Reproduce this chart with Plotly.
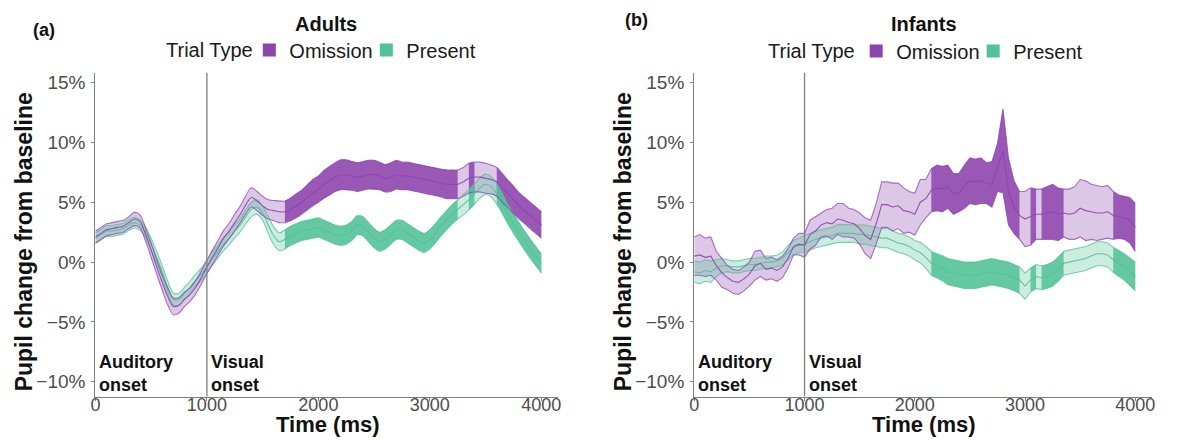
import numpy as np
import plotly.graph_objects as go

W, H = 1178, 441

# ---------------- DATA ----------------
time_ms = list(range(0, 4001, 50))
x_ticks = [0, 1000, 2000, 3000, 4000]
x_ticktext = ["0", "1000", "2000", "3000", "4000"]
y_ticks = [-10, -5, 0, 5, 10, 15]
y_ticktext = ["\u221210%", "\u22125%", "0%", "5%", "10%", "15%"]

# Adults
adult_omission_mean = [
    2.1, 2.4, 2.7, 2.8, 2.9, 3.0, 3.3, 3.6, 3.4, 2.3,
    1.0, -0.4, -1.7, -2.9, -3.7, -3.6, -3.1, -2.7, -2.1, -1.3,
    -0.4, 0.4, 1.2, 2.0, 2.6, 3.3, 4.0, 4.8, 5.4, 5.1,
    4.7, 4.4, 4.3, 4.2, 4.2, 4.4, 4.7, 5.0, 5.4, 5.8,
    6.1, 6.5, 6.8, 7.1, 7.3, 7.3, 7.2, 7.1, 7.2, 7.3,
    7.3, 7.2, 7.0, 7.1, 7.3, 7.2, 7.2, 7.1, 7.0, 6.9,
    6.8, 6.7, 6.6, 6.5, 6.5, 6.5, 6.7, 7.0, 7.1, 7.1,
    7.0, 6.9, 6.7, 6.2, 5.7, 5.2, 4.7, 4.3, 3.9, 3.5,
    3.1]
adult_omission_ci = [
    0.5, 0.5, 0.5, 0.5, 0.5, 0.5, 0.5, 0.55, 0.55, 0.55,
    0.6, 0.6, 0.65, 0.7, 0.7, 0.65, 0.6, 0.55, 0.55, 0.55,
    0.55, 0.6, 0.6, 0.65, 0.65, 0.7, 0.7, 0.75, 0.8, 0.8,
    0.8, 0.8, 0.85, 0.9, 0.9, 0.95, 1.0, 1.0, 1.05, 1.1,
    1.1, 1.15, 1.2, 1.2, 1.25, 1.25, 1.2, 1.2, 1.2, 1.2,
    1.2, 1.15, 1.15, 1.2, 1.2, 1.15, 1.15, 1.15, 1.15, 1.15,
    1.15, 1.15, 1.15, 1.2, 1.2, 1.2, 1.2, 1.25, 1.25, 1.25,
    1.25, 1.2, 1.2, 1.2, 1.15, 1.15, 1.1, 1.1, 1.1, 1.1,
    1.1]
adult_present_mean = [
    2.0, 2.3, 2.6, 2.6, 2.7, 2.8, 3.1, 3.3, 3.1, 2.5,
    1.5, 0.4, -0.8, -2.1, -3.1, -3.1, -2.6, -2.1, -1.5, -1.0,
    -0.4, 0.3, 0.9, 1.5, 2.0, 2.6, 3.1, 3.8, 4.4, 4.6,
    4.1, 3.1, 2.2, 1.7, 1.9, 2.2, 2.4, 2.6, 2.7, 2.8,
    2.9, 2.7, 2.5, 2.3, 2.2, 2.3, 2.6, 3.1, 3.0, 2.5,
    2.0, 1.7, 1.9, 2.3, 2.7, 2.7, 2.4, 2.1, 1.8, 1.6,
    1.9, 2.4, 3.0, 3.5, 4.0, 4.4, 4.8, 5.2, 5.7, 6.2,
    6.5, 6.3, 5.7, 4.9, 4.0, 3.2, 2.5, 1.8, 1.1, 0.5,
    -0.1]
adult_present_ci = [
    0.45, 0.45, 0.45, 0.45, 0.45, 0.45, 0.45, 0.45, 0.45, 0.45,
    0.5, 0.5, 0.5, 0.5, 0.5, 0.5, 0.5, 0.5, 0.5, 0.5,
    0.55, 0.55, 0.55, 0.55, 0.55, 0.55, 0.55, 0.6, 0.6, 0.6,
    0.6, 0.7, 0.75, 0.75, 0.8, 0.8, 0.8, 0.8, 0.8, 0.8,
    0.8, 0.8, 0.8, 0.8, 0.8, 0.8, 0.8, 0.8, 0.8, 0.8,
    0.8, 0.8, 0.8, 0.8, 0.8, 0.8, 0.8, 0.8, 0.8, 0.8,
    0.8, 0.8, 0.8, 0.8, 0.8, 0.8, 0.85, 0.85, 0.85, 0.85,
    0.85, 0.85, 0.85, 0.85, 0.8, 0.8, 0.8, 0.8, 0.8, 0.8,
    0.8]
adult_sig_windows = [(1700, 3250), (3350, 3400), (3600, 4000)]

# Infants
infant_omission_mean = [
    0.5, 0.6, 0.4, 0.5, -0.3, -0.9, -1.3, -1.6, -1.7, -1.4,
    -1.0, -0.3, -0.1, -0.6, -0.5, -0.7, -0.4, 0.3, 1.3, 1.5,
    1.4, 2.3, 2.6, 3.1, 3.3, 3.2, 3.6, 3.5, 3.3, 3.2,
    2.8, 2.2, 1.9, 3.2, 4.8, 4.8, 4.6, 4.7, 4.3, 4.2,
    4.0, 5.0, 5.3, 6.0, 6.2, 6.1, 6.3, 5.7, 5.8, 6.3,
    6.8, 6.7, 6.8, 6.6, 6.5, 7.9, 9.3, 5.9, 4.6, 3.9,
    3.6, 3.8, 4.0, 4.0, 4.1, 4.2, 4.0, 4.1, 4.0, 4.1,
    4.5, 4.3, 4.2, 4.1, 4.1, 4.2, 3.9, 3.8, 3.7, 3.5,
    2.9]
infant_omission_ci = [
    1.6, 1.7, 1.6, 1.6, 1.2, 1.2, 1.0, 1.0, 1.0, 1.0,
    1.0, 1.2, 1.1, 0.9, 0.9, 0.9, 0.9, 0.8, 0.7, 0.9,
    1.0, 1.2, 1.2, 1.0, 1.1, 1.3, 1.3, 1.4, 1.2, 1.2,
    1.3, 1.5, 1.6, 1.7, 1.9, 1.9, 2.0, 1.9, 1.9, 1.7,
    1.75, 1.9, 1.6, 1.8, 1.9, 1.9, 1.8, 1.7, 1.6, 1.8,
    1.9, 1.9, 1.9, 1.7, 1.9, 2.0, 3.5, 2.8, 2.2, 2.0,
    2.3, 2.4, 2.1, 2.1, 2.2, 2.3, 2.2, 2.0, 2.1, 2.2,
    2.4, 2.5, 2.3, 2.3, 2.2, 2.2, 2.0, 1.8, 1.8, 1.9,
    2.0]
infant_present_mean = [
    -0.8, -0.9, -0.7, -0.8, -0.5, -0.3, -0.3, -0.4, -0.4, -0.3,
    -0.2, -0.2, -0.1, 0.0, 0.0, 0.1, 0.3, 0.8, 1.2, 1.4,
    1.5, 1.7, 1.9, 2.0, 2.1, 2.2, 2.4, 2.4, 2.4, 2.4,
    2.3, 2.3, 2.2, 2.1, 2.0, 2.0, 1.8, 1.6, 1.5, 1.3,
    1.0, 0.8, 0.4, -0.1, -0.3, -0.5, -0.8, -0.9, -1.0, -1.1,
    -1.1, -1.1, -1.0, -0.9, -0.8, -0.9, -1.0, -1.1, -1.3, -1.5,
    -2.0, -1.5, -1.2, -1.3, -1.2, -1.0, -0.6, -0.1, 0.0, 0.1,
    0.2, 0.3, 0.5, 0.7, 0.7, 0.6, 0.2, -0.1, -0.4, -0.8,
    -1.2]
infant_present_ci = [
    0.9, 0.9, 0.9, 0.9, 0.7, 0.6, 0.5, 0.5, 0.5, 0.5,
    0.5, 0.5, 0.5, 0.5, 0.5, 0.5, 0.55, 0.6, 0.6, 0.6,
    0.65, 0.7, 0.7, 0.7, 0.7, 0.7, 0.75, 0.75, 0.75, 0.75,
    0.8, 0.8, 0.8, 0.8, 0.8, 0.8, 0.8, 0.8, 0.8, 0.8,
    0.8, 0.85, 0.9, 1.0, 1.0, 1.05, 1.1, 1.1, 1.1, 1.1,
    1.1, 1.1, 1.1, 1.1, 1.1, 1.1, 1.1, 1.1, 1.1, 1.1,
    1.1, 1.0, 1.0, 1.0, 1.0, 1.0, 1.0, 1.0, 1.0, 1.0,
    1.0, 1.0, 1.0, 1.0, 1.0, 1.0, 1.05, 1.1, 1.1, 1.15,
    1.2]
infant_sig_windows = [(2150, 2950), (3050, 3100), (3150, 3350), (3800, 4000)]

# ---------------- STYLE ----------------
PURPLE = (142, 68, 173)
GREEN = (82, 194, 152)
FONT = "Liberation Sans, Arial, Helvetica, sans-serif"


def rgba(c, a):
    return "rgba(%d,%d,%d,%.3f)" % (c[0], c[1], c[2], a)


def px(x):
    return x / W


def py(y):
    return 1 - y / H


fig = go.Figure()


def add_fills(t, mean, ci, windows, color, xa, ya):
    t = np.asarray(t, float)
    m = np.asarray(mean, float)
    c = np.asarray(ci, float)
    up, lo = m + c, m - c
    fig.add_trace(go.Scatter(
        x=np.concatenate([t, t[::-1]]), y=np.concatenate([up, lo[::-1]]),
        fill="toself", fillcolor=rgba(color, 0.30), mode="lines",
        line=dict(width=0), hoverinfo="skip", showlegend=False,
        xaxis=xa, yaxis=ya))
    for a, b in windows:
        k = (t >= a) & (t <= b)
        tt, uu, ll = t[k], up[k], lo[k]
        fig.add_trace(go.Scatter(
            x=np.concatenate([tt, tt[::-1]]), y=np.concatenate([uu, ll[::-1]]),
            fill="toself", fillcolor=rgba(color, 0.85), mode="lines",
            line=dict(width=0), hoverinfo="skip", showlegend=False,
            xaxis=xa, yaxis=ya))


def add_lines(t, mean, ci, color, xa, ya, shape):
    m = np.asarray(mean, float)
    c = np.asarray(ci, float)
    for yy, alpha in ((m + c, 0.75), (m - c, 0.75), (m, 0.9)):
        fig.add_trace(go.Scatter(
            x=t, y=yy, mode="lines",
            line=dict(color=rgba(color, alpha), width=1.1, shape=shape),
            hoverinfo="skip", showlegend=False, xaxis=xa, yaxis=ya))


# Panel (a) adults
add_fills(time_ms, adult_omission_mean, adult_omission_ci, adult_sig_windows, PURPLE, "x", "y")
add_fills(time_ms, adult_present_mean, adult_present_ci, adult_sig_windows, GREEN, "x", "y")
add_lines(time_ms, adult_present_mean, adult_present_ci, GREEN, "x", "y", "spline")
add_lines(time_ms, adult_omission_mean, adult_omission_ci, PURPLE, "x", "y", "spline")

# Panel (b) infants
add_fills(time_ms, infant_omission_mean, infant_omission_ci, infant_sig_windows, PURPLE, "x2", "y2")
add_fills(time_ms, infant_present_mean, infant_present_ci, infant_sig_windows, GREEN, "x2", "y2")
add_lines(time_ms, infant_present_mean, infant_present_ci, GREEN, "x2", "y2", "linear")
add_lines(time_ms, infant_omission_mean, infant_omission_ci, PURPLE, "x2", "y2", "linear")

# Legend entries
for leg, xa, ya in (("legend", "x", "y"), ("legend2", "x2", "y2")):
    for name, col in (("Omission", PURPLE), ("Present", GREEN)):
        fig.add_trace(go.Scatter(
            x=[None], y=[None], mode="markers", name=name,
            marker=dict(symbol="square", size=13, color=rgba(col, 1.0)),
            legend=leg, xaxis=xa, yaxis=ya))

# Axes
PLOT_TOP, PLOT_BOTTOM = 72, 396.5
PX_PER_PCT = 12.0
ZERO_Y = 261.7
Y_RANGE = [(ZERO_Y - PLOT_BOTTOM) / PX_PER_PCT, (ZERO_Y - PLOT_TOP) / PX_PER_PCT]
X_RANGE = [0, 4150]
ydom = [py(PLOT_BOTTOM), py(PLOT_TOP)]
axis_common = dict(showline=True, linecolor="#7f7f7f", linewidth=1.3,
                   ticks="outside", ticklen=3, tickcolor="#7f7f7f",
                   showgrid=False, zeroline=False)
xfont = dict(family=FONT, size=18, color="#4d4d4d")
yfont = dict(family=FONT, size=19, color="#4d4d4d")
xa_dom = [px(91), px(91 + 4150 * 0.11225)]
xb_dom = [px(694), px(694 + 4150 * 0.111)]

leg_common = dict(orientation="h", xanchor="left", yanchor="middle",
                  bgcolor="rgba(0,0,0,0)", traceorder="normal",
                  entrywidth=72, entrywidthmode="pixels",
                  font=dict(family=FONT, size=20, color="#1a1a1a"),
                  itemclick=False, itemdoubleclick=False)

fig.update_layout(
    width=W, height=H, margin=dict(l=0, r=0, t=0, b=0),
    paper_bgcolor="white", plot_bgcolor="white",
    font=dict(family=FONT),
    xaxis=dict(domain=xa_dom, range=X_RANGE, tickvals=x_ticks, ticktext=x_ticktext,
               anchor="y", ticklabelstandoff=-11, tickfont=xfont, **axis_common),
    yaxis=dict(domain=ydom, range=Y_RANGE, tickvals=y_ticks, ticktext=y_ticktext,
               anchor="x", ticklabelstandoff=2, tickfont=yfont, **axis_common),
    xaxis2=dict(domain=xb_dom, range=X_RANGE, tickvals=x_ticks, ticktext=x_ticktext,
                anchor="y2", ticklabelstandoff=-11, tickfont=xfont, **axis_common),
    yaxis2=dict(domain=ydom, range=Y_RANGE, tickvals=y_ticks, ticktext=y_ticktext,
                anchor="x2", ticklabelstandoff=2, tickfont=yfont, **axis_common),
    legend=dict(x=px(246), y=py(49), **leg_common),
    legend2=dict(x=px(857), y=py(50), **leg_common),
    showlegend=True,
)

# Onset lines
for xr in ("x", "x2"):
    fig.add_shape(type="line", xref=xr, yref=xr.replace("x", "y") + " domain",
                  x0=1000, x1=1000, y0=0, y1=1,
                  line=dict(color="#7f7f7f", width=1.3))

ann = []
def add_text(text, x, y, size, xanchor="center", yanchor="middle", angle=0, color="#111111", **kw):
    ann.append(dict(text=text, x=x, y=y, xref=kw.pop("xref", "paper"), yref="paper",
                    xanchor=xanchor, yanchor=yanchor, showarrow=False, textangle=angle,
                    font=dict(family=FONT, size=size, color=color), **kw))

add_text("<b>(a)</b>", px(26), py(29), 18, xanchor="left")
add_text("<b>(b)</b>", px(622), py(19), 18, xanchor="left")
add_text("<b>Adults</b>", px(323), py(23), 20)
add_text("<b>Infants</b>", px(925), py(23), 20)
add_text("Trial Type", px(252), py(49), 20, xanchor="right", color="#1a1a1a")
add_text("Trial Type", px(858), py(50), 20, xanchor="right", color="#1a1a1a")
add_text("<b>Pupil change from baseline</b>", px(20), py(241), 23, angle=-90)
add_text("<b>Pupil change from baseline</b>", px(623), py(241), 23, angle=-90)
add_text("<b>Time (ms)</b>", px(325), py(424), 22)
add_text("<b>Time (ms)</b>", px(925), py(424), 22)
for xr in ("x", "x2"):
    add_text("<b>Auditory<br>onset</b>", 0, py(373), 18, xanchor="left", xref=xr, xshift=2, align="left")
    add_text("<b>Visual<br>onset</b>", 1000, py(373), 18, xanchor="left", xref=xr, xshift=2, align="left")
fig.update_layout(annotations=ann)

fig.write_html("out.html")
